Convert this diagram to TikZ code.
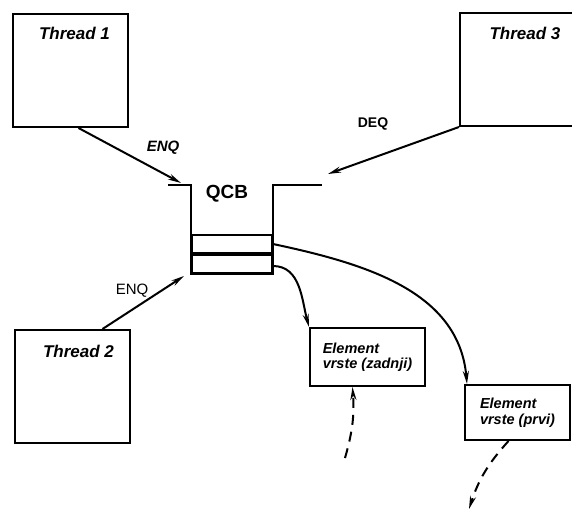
\documentclass[tikz,border=0pt]{standalone}
\usepackage{fontspec}
\setmainfont{Liberation Sans}
\usetikzlibrary{positioning, arrows.meta}

\begin{document}
\begin{tikzpicture}[
  x=1pt, y=-1pt,
  line width=2pt,
  hand/.style     = {font=\fontsize{17}{19}\selectfont\bfseries\itshape, inner sep=0pt},
  plain/.style    = {font=\fontsize{15}{17}\selectfont, inner sep=0pt},
  threadbox/.style = {draw, minimum width=115pt, minimum height=113pt, inner sep=0pt},
  elembox/.style  = {draw, align=left, inner sep=2pt,
                     font=\fontsize{14.5}{15.5}\selectfont\bfseries\itshape},
  slot/.style     = {draw, minimum width=80pt, minimum height=18pt, inner sep=0pt},
  flow/.style     = {-{Stealth[length=13pt, width=6pt]}, line width=2pt},
  back/.style     = {flow, dash pattern=on 10pt off 7pt},
]
\clip (0,0) rectangle (572,510);

%% ---------------------------------------------------------------- threads
\node[threadbox] (t1) at (70.5,70.5) {};
\node[hand, below=13pt of t1.north, xshift=4pt] (t1lbl) {Thread 1};

\node[threadbox, minimum width=140pt] (t3) at (530,69.5) {};
\node[hand, below=14pt of t3.north, xshift=-5pt] (t3lbl) {Thread 3};

\node[threadbox] (t2) at (72.5,386.5) {};
\node[hand, below=15pt of t2.north, xshift=6pt] (t2lbl) {Thread 2};

%% ---------------------------------------------------------------- QCB
\node[slot] (q1) at (232,244) {};
\node[slot, below=0pt of q1] (q2) {};
\coordinate (ledgeL) at (168,185);
\coordinate (ledgeR) at (322,185);
\draw (ledgeL) -- (q1.north west |- ledgeL) -- (q2.south west)
      -- (q2.south east) -- (q1.north east |- ledgeR) -- (ledgeR);
\node[plain, font=\fontsize{19}{21}\selectfont\bfseries] (qcb) at (227,194) {QCB};

%% ---------------------------------------------------------------- elements
\node[elembox, minimum width=115pt, minimum height=58pt] (zad) at (367.5,357)
  {Element\\vrste (zadnji)};
\node[elembox, minimum width=105pt, minimum height=55pt] (prvi) at (517.5,412.5)
  {Element\\vrste (prvi)};

%% ---------------------------------------------------------------- operations
\coordinate (enqL) at (181,183);
\coordinate (deqR) at (328,174);
\coordinate (enqB) at (184,276);
\draw[flow] ([xshift=8pt]t1.south) -- (enqL);
\node[hand, font=\fontsize{15}{17}\selectfont\bfseries\itshape] (enq1) at (163,148) {ENQ};
\draw[flow] (t3.south west) -- (deqR);
\node[plain, font=\fontsize{14}{16}\selectfont\bfseries] (deq) at (373,124) {DEQ};
\draw[flow] ([xshift=30pt]t2.north) -- (enqB);
\node[plain] (enq2) at (132,291) {ENQ};

%% ---------------------------------------------------------------- links
\draw[flow] (q1.east) to[out=-12, in=95] ([xshift=3pt]prvi.north west);
\draw[flow] ([yshift=-2pt]q2.east) to[out=0, in=105] (zad.north west);

\coordinate (zadtail) at (345,458);
\coordinate (prvitail) at (469,509);
\draw[back] (zadtail) to[bend right=10] ([xshift=-15pt]zad.south);
\draw[back] ([xshift=-9pt]prvi.south) to[bend right=12] (prvitail);
\end{tikzpicture}
\end{document}
